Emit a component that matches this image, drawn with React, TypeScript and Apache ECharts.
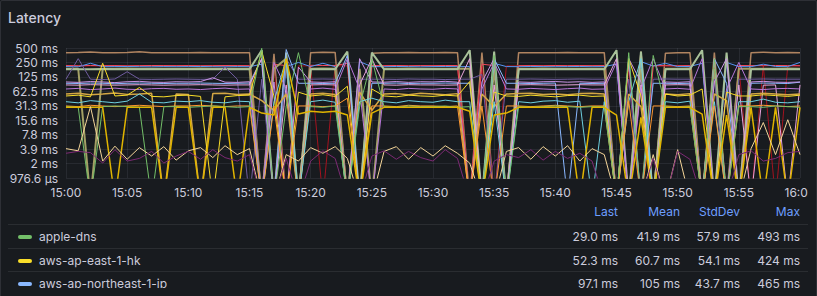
import React, { useEffect, useRef } from "react";
import * as echarts from "echarts";

// minute offsets 0..60 from 15:00
const xTickLabels = ["15:00", "15:05", "15:10", "15:15", "15:20", "15:25", "15:30", "15:35", "15:40", "15:45", "15:50", "15:55", "16:00"];

// values in ms (0 = no answer, drawn off the bottom)
const brown = [400,405,415,400,398,402,420,400,400,398, 400,402,400,398,400,400,0,380,0,0, 400,410,405,0,0,390,400,400,402,398, 400,405,400,0,400,0,0,400,398,400, 400,402,400,398,400,0,0,420,0,390, 400,400,0,400,0,0,400,410,400,405, 400];
const darkred = [212,212,213,212,212,211,212,212,213,212, 212,212,211,212,212,212,0,212,0,212, 212,0,212,212,0,212,212,212,212,212, 212,211,212,0,212,0,212,212,212,212, 212,212,211,212,212,0,212,0,212,212, 211,212,0,212,0,212,0,212,0,212, 212];
const red = [215,213,216,214,215,212,214,216,215,214, 215,213,214,216,215,214,0,230,215,0, 218,216,215,240,0,215,214,216,213,215, 214,216,215,0,230,215,0,214,215,213, 216,214,215,214,215,0,240,0,215,214, 213,215,0,250,0,216,215,214,216,215, 214];
const blue = [205,203,240,204,205,206,204,203,205,204, 205,206,204,203,205,204,230,0,205,250, 205,240,205,0,260,205,204,206,205,203, 205,206,204,205,0,240,205,204,206,205, 204,205,206,204,205,230,0,260,210,240, 205,206,240,0,250,205,204,230,206,205, 250];
const olive = [185,185,0,185,184,186,185,185,185,184, 185,186,185,185,184,185,0,185,300,0, 185,186,185,0,185,0,185,185,186,185, 185,184,185,185,0,185,0,185,185,186, 185,185,184,185,185,0,0,185,0,185, 185,186,0,185,0,185,185,184,185,186, 185];
const paleGreen = [180,181,180,182,180,181,180,180,181,180, 180,181,180,180,181,180,450,0,400,0, 180,181,180,420,0,400,180,181,180,180, 181,180,180,450,0,420,0,180,181,180, 180,180,181,180,180,450,0,420,0,180, 181,180,450,0,400,0,180,181,180,180, 180];
const violet = [112,300,112,110,113,160,112,111,112,113, 112,111,112,200,112,0,112,0,300,112, 112,113,112,0,112,112,112,111,113,112, 112,110,112,112,140,0,112,112,113,112, 111,112,113,112,112,0,112,0,112,113, 112,112,0,112,0,112,112,113,112,112, 112];
const lavender = [98,96,100,98,95,99,101,97,96,99, 98,100,120,97,96,99,0,98,0,200, 98,96,99,0,300,98,97,100,96,99, 98,101,97,0,98,300,0,98,96,99, 100,97,99,96,98,0,300,98,0,98, 96,99,0,98,300,0,98,101,97,96, 98];
const jp = [92,91,93,92,90,92,93,92,91,92, 92,93,92,91,92,93,300,0,465,92, 92,91,92,350,0,92,92,93,91,92, 92,93,92,92,0,300,92,92,91,92, 93,0,92,91,92,0,300,0,92,92, 91,92,0,300,92,0,92,93,92,91, 97];
const pink = [85,84,86,85,84,85,86,85,84,85, 85,86,85,84,85,85,300,0,85,0, 85,86,85,0,85,300,85,84,86,85, 85,84,85,300,0,85,0,85,86,85, 84,85,86,85,85,300,0,85,0,85, 86,85,0,300,0,85,0,84,85,0, 85];
const purple = [70,72,68,70,73,69,68,71,72,69, 70,68,71,73,69,70,0,250,70,0, 70,73,69,300,70,0,70,68,72,70, 69,72,70,0,70,250,70,69,72,70, 68,71,73,69,70,250,0,70,300,70, 72,69,300,0,70,250,70,68,71,72, 70];
const gold = [55,57,53,55,58,54,55,57,0,55, 54,0,56,57,54,55,40,25,55,0, 55,57,54,0,60,25,55,56,53,57, 55,53,56,0,55,30,55,56,57,54, 55,53,56,57,55,0,55,30,0,55, 53,56,0,55,40,0,55,57,55,53, 55];
const hk = [50,52,48,240,50,52,75,49,48,51, 52,49,0,48,51,52,424,50,0,60, 50,53,49,80,0,70,50,48,52,50, 49,52,50,100,0,60,50,49,52,50, 48,51,52,49,50,0,300,50,0,55, 50,52,70,0,60,50,50,53,51,49, 52];
const cyan = [38,36,40,38,36,39,55,37,36,39, 38,40,37,36,39,38,0,38,300,0, 38,41,37,0,38,45,38,36,40,38, 37,41,38,38,0,38,0,38,36,39, 40,37,39,0,38,0,38,300,0,38, 36,39,0,38,0,38,38,43,37,36, 38];
const orange = [31,30,32,31,30,31,32,31,30,31, 31,32,31,30,31,31,0,31,0,31, 31,30,31,45,0,31,31,30,32,31, 31,30,31,0,31,0,31,31,30,31, 32,31,30,31,31,0,40,0,31,31, 30,31,0,31,0,31,31,32,31,30, 31];
const appleDns = [30,29,0,30,31,30,29,0,30,30, 29,30,31,30,29,30,493,0,30,400, 30,29,31,0,30,300,30,29,31,30, 30,31,29,30,0,350,0,30,29,30, 31,30,29,30,30,0,400,0,350,30, 29,30,0,300,0,30,30,29,31,30, 29];
const darkYellow = [29,29,29,29,0,29,29,29,0,29, 29,0,29,29,0,29,22,20,300,21, 24,23,24,20,0,22,29,29,29,29, 29,29,29,24,0,20,22,29,29,29, 29,29,0,29,29,20,0,18,0,29, 29,29,21,0,20,0,29,0,29,0, 29];
const wheat = [4,3.6,30,2.2,4.5,2.4,4.2,2.8,4.4,2.3, 3.6,4.2,2.6,4.6,3,4,0,0,3,2.2, 4.2,3.2,4.4,2.5,0,0,3.5,4.4,2.4,4.2, 2.8,4.6,3.2,2,0,0,3.5,4.2,2.4,4.4, 2.8,4.6,2.2,4,3,0,0,0,3,0, 3.8,0,0,0,0,0,4,14,3,16, 3];
const magenta = [3.2,3.5,3.3,2,3.8,2.2,2.5,3.5,2,2.8, 3.5,2.4,3.8,2.6,2.2,3,0,0,2.5,0, 2.2,3.6,2.5,0,0,2.8,3.6,2.4,3.5,2.6, 2.2,3.8,2.5,0,0,2.2,3,2.6,3.8,2.3, 3.5,2.5,3.2,2.2,0,0,0,0,2.5,0, 3.5,2.4,0,0,0,3,3.6,2.2,2.5,3.3, 3.5];

const seriesNames = ["cloudflare-dns", "aws-eu-west-1-ie-b", "aws-eu-west-1-ie", "aws-us-east-1-va", "aws-sa-east-1-br", "aws-us-west-2-or", "aws-ap-south-1-in", "aws-ap-northeast-1-jp", "aws-ap-southeast-2-au", "aws-ap-southeast-1-sg", "aws-us-west-1-ca", "aws-ca-central-1-ca", "aws-ap-east-1-hk", "aws-eu-central-1-de", "aws-eu-north-1-se", "apple-dns", "google-dns", "quad9-dns", "local-dns"];
const seriesColors = ["#B08460", "#A3131F", "#F2495C", "#5794F2", "#A3A065", "#A9C29A", "#705DA0", "#8AB8FF", "#CA95E5", "#E8A5DC", "#B877D9", "#D4A745", "#FADE2A", "#6ED0E0", "#FF9830", "#73BF69", "#E0B400", "#F4D598", "#7D2A74"];
const seriesValues = [brown, darkred, red, blue, olive, paleGreen, violet, jp, lavender, pink, purple, gold, hk, cyan, orange, appleDns, darkYellow, wheat, magenta];
const seriesWidths = [1.5, 1, 1, 1, 2, 2, 1, 1, 1, 1, 1, 1.5, 1, 1, 1, 1, 1.5, 1, 1];

// legend table
const legendHeaders = ["Last", "Mean", "StdDev", "Max"];
const legendNames = ["apple-dns", "aws-ap-east-1-hk", "aws-ap-northeast-1-jp"];
const legendColors = ["#73BF69", "#FADE2A", "#8AB8FF"];
const legendLast = ["29.0 ms", "52.3 ms", "97.1 ms"];
const legendMean = ["41.9 ms", "60.7 ms", "105 ms"];
const legendStd = ["57.9 ms", "54.1 ms", "43.7 ms"];
const legendMax = ["493 ms", "424 ms", "465 ms"];

const BASE = 0.9765625; // ms at bottom tick
const toY = (v: number) => (v > 0 ? Math.log2(v / BASE) : -1.5);
const fmtY = (v: number) => {
  const ms = BASE * Math.pow(2, v);
  if (ms < 1) return parseFloat((ms * 1000).toFixed(1)) + " µs";
  return parseFloat(ms.toFixed(1)) + " ms";
};

const FONT = "Inter, 'Noto Sans', sans-serif";
const TXT = "#CCCCDC";
const BLUE = "#6E9FFF";
const colRight = [618, 680, 740, 800];

function Chart() {
  const ref = useRef<HTMLDivElement>(null);
  useEffect(() => {
    if (!ref.current) return;
    const chart = echarts.init(ref.current, undefined, { renderer: "svg" });
    chart.setOption({
      animation: false,
      backgroundColor: "transparent",
      grid: { left: 66, right: 30, top: 48, bottom: 22, containLabel: false },
      xAxis: {
        type: "value",
        min: 0,
        max: 60,
        interval: 5,
        axisLine: { show: false },
        axisTick: { show: false },
        splitLine: { show: true, lineStyle: { color: "rgba(204,204,220,0.09)", width: 1 } },
        axisLabel: {
          color: TXT,
          fontFamily: FONT,
          fontSize: 12,
          margin: 8,
          alignMinLabel: "center",
          alignMaxLabel: "center",
          formatter: (v: number) => xTickLabels[Math.round(v / 5)],
        },
      },
      yAxis: {
        type: "value",
        min: 0,
        max: 9,
        interval: 1,
        axisLine: { show: false },
        axisTick: { show: false },
        splitLine: { show: true, lineStyle: { color: "rgba(204,204,220,0.09)", width: 1 } },
        axisLabel: { color: TXT, fontFamily: FONT, fontSize: 12, margin: 8, formatter: fmtY },
      },
      series: seriesValues.map((vals, i) => ({
        name: seriesNames[i],
        type: "line",
        symbol: "none",
        clip: true,
        lineStyle: { color: seriesColors[i], width: seriesWidths[i] },
        itemStyle: { color: seriesColors[i] },
        data: vals.map((v, k) => [k, toY(v)]),
      })),
    });
    return () => chart.dispose();
  }, []);
  return (
    <div style={{ position: "absolute", left: 0, top: 0, width: 808, height: 200, overflow: "hidden" }}>
      <div ref={ref} style={{ position: "absolute", left: 0, top: 0, width: 830, height: 200 }} />
    </div>
  );
}

export default function App() {
  return (
    <div
      style={{
        position: "fixed",
        left: 0,
        top: 0,
        width: 817,
        height: 296,
        overflow: "hidden",
        background: "#181B1F",
        fontFamily: FONT,
        color: TXT,
      }}
    >
      <div
        style={{
          position: "absolute",
          left: 0,
          top: 0,
          width: 815,
          height: 300,
          border: "1px solid rgba(204,204,220,0.12)",
          borderRadius: 2,
        }}
      />
      <div style={{ position: "absolute", left: 8, top: 8, fontSize: 14, fontWeight: 500, lineHeight: "20px" }}>Latency</div>
      <Chart />
      <div style={{ position: "absolute", left: 0, top: 200, width: 817, height: 88, overflow: "hidden" }}>
        {legendHeaders.map((h, i) => (
          <div
            key={h}
            style={{ position: "absolute", top: 4, right: 817 - colRight[i], fontSize: 12, lineHeight: "16px", color: BLUE, whiteSpace: "nowrap" }}
          >
            {h}
          </div>
        ))}
        {[24, 48, 71].map((y) => (
          <div key={y} style={{ position: "absolute", left: 8, width: 800, top: y, height: 1, background: "rgba(204,204,220,0.1)" }} />
        ))}
        {legendNames.map((n, r) => {
          const cy = 37 + r * 23.5;
          const vals = [legendLast[r], legendMean[r], legendStd[r], legendMax[r]];
          return (
            <React.Fragment key={n}>
              <div style={{ position: "absolute", left: 18, top: cy - 2, width: 14, height: 4, borderRadius: 2, background: legendColors[r] }} />
              <div style={{ position: "absolute", left: 39, top: cy - 8, fontSize: 12, lineHeight: "16px", whiteSpace: "nowrap" }}>{n}</div>
              {vals.map((v, i) => (
                <div
                  key={i}
                  style={{ position: "absolute", top: cy - 8, right: 817 - colRight[i], fontSize: 12, lineHeight: "16px", whiteSpace: "nowrap" }}
                >
                  {v}
                </div>
              ))}
            </React.Fragment>
          );
        })}
      </div>
    </div>
  );
}
